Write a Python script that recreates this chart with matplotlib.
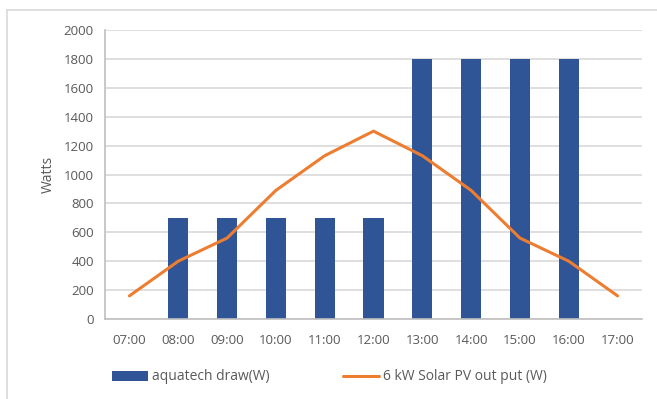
import matplotlib
matplotlib.use("Agg")
import matplotlib.pyplot as plt
from matplotlib.lines import Line2D

hours = ["07:00", "08:00", "09:00", "10:00", "11:00", "12:00",
         "13:00", "14:00", "15:00", "16:00", "17:00"]
aquatech_draw = [0, 700, 700, 700, 700, 700, 1800, 1800, 1800, 1800, 0]
solar_pv = [160, 400, 560, 890, 1130, 1300, 1130, 890, 560, 400, 160]
yticks = [0, 200, 400, 600, 800, 1000, 1200, 1400, 1600, 1800, 2000]

plt.rcParams['font.family'] = ['Open Sans', 'DejaVu Sans']
txt = '#595959'
grid = '#d9d9d9'

fig = plt.figure(figsize=(6.57, 3.99), dpi=100)
ax = fig.add_axes([105/657, 1 - 319/399, (642 - 105)/657, (319 - 30)/399])

x = list(range(len(hours)))
bars = ax.bar(x, aquatech_draw, width=0.41, color='#2F5597', zorder=2,
              label='aquatech draw(W)')
line, = ax.plot(x, solar_pv, color='#ED7D31', lw=2.2, zorder=3,
                label='6 kW Solar PV out put (W)', solid_capstyle='round')

ax.set_xlim(-0.5, len(hours) - 0.5)
ax.set_ylim(0, 2000)
ax.set_yticks(yticks)
ax.set_xticks(x)
ax.set_xticklabels(hours)
ax.tick_params(axis='both', length=0, labelsize=9.5, labelcolor=txt)
ax.tick_params(axis='x', pad=11)
ax.tick_params(axis='y', pad=8)
ax.yaxis.grid(True, color=grid, lw=1.2, zorder=0)
ax.set_axisbelow(True)
for s in ['top', 'right']:
    ax.spines[s].set_visible(False)
ax.spines['left'].set_color('#bfbfbf')
ax.spines['bottom'].set_color('#bfbfbf')
ax.spines['left'].set_linewidth(1.2)
ax.spines['bottom'].set_linewidth(1.2)
ax.set_ylabel('Watts', color=txt, fontsize=10, labelpad=6)

# outer chart border
fig.add_artist(Line2D([7/657, 1], [1 - 10/399, 1 - 10/399], color='#d9d9d9', lw=1.2))
fig.add_artist(Line2D([7/657, 7/657], [0, 1 - 10/399], color='#d9d9d9', lw=1.2))

leg = fig.legend([bars, line], ['aquatech draw(W)', '6 kW Solar PV out put (W)'],
                 loc='center left', bbox_to_anchor=(99/657, 1 - 377/399),
                 ncol=2, frameon=False, fontsize=10, labelcolor=txt,
                 handlelength=2.6, handleheight=0.7, columnspacing=5.3,
                 handletextpad=0.3)

fig.savefig('out.png', dpi=100)
